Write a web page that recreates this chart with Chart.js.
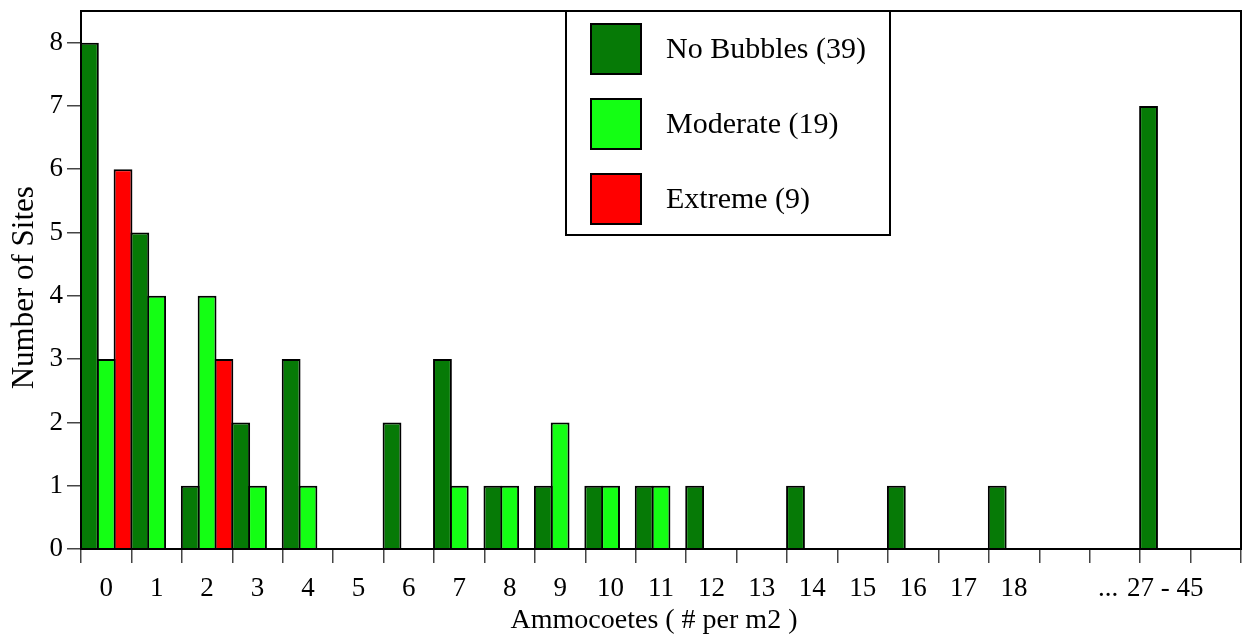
<!DOCTYPE html>
<html>
<head>
<meta charset="utf-8">
<script src="https://cdn.jsdelivr.net/npm/chart.js@4.4.1/dist/chart.umd.min.js"></script>
<style>
  html, body { margin: 0; padding: 0; background: #fff; }
  #wrap { width: 1244px; height: 642px; position: relative; }
</style>
</head>
<body>
<div id="wrap"><canvas id="chart"></canvas></div>
<script>
// x categories: ammocoete density classes (last ones grouped)
const categories = ['0', '1', '2', '3', '4', '5', '6', '7', '8', '9', '10', '11', '12',
  '13', '14', '15', '16', '17', '18', '', '...  ', '27 - 45', ''];

const seriesLabels = ['No Bubbles (39)', 'Moderate (19)', 'Extreme (9)'];
const seriesColors = ['#067a06', '#14ff14', '#ff0000'];

const noBubbles = [8, 5, 1, 2, 3, null, 2, 3, 1, 1, 1, 1, 1, null, 1, null, 1, null, 1, null, null, 7, null];
const moderate = [3, 4, 4, 1, 1, null, null, 1, 1, 2, 1, 1, null, null, null, null, null, null, null, null, null, null, null];
const extreme = [6, null, 3, null, null, null, null, null, null, null, null, null, null, null, null, null, null, null, null, null, null, null, null];

const yTicks = [0, 1, 2, 3, 4, 5, 6, 7, 8];

const FONT = '"Liberation Serif", "Times New Roman", serif';

// frame round the plot + boxed legend inside the top of the plot
const framePlugin = {
  id: 'frameAndLegend',
  afterDatasetsDraw(chart) {
    const { ctx, chartArea: a } = chart;
    ctx.save();
    ctx.strokeStyle = '#000';
    ctx.lineWidth = 2;
    ctx.strokeRect(a.left, a.top, a.right - a.left, a.bottom - a.top);

    const bx = a.left + 485, by = a.top, bw = 324, bh = 224;
    ctx.fillStyle = '#fff';
    ctx.fillRect(bx, by, bw, bh);
    ctx.strokeRect(bx, by, bw, bh);

    ctx.font = '30px ' + FONT;
    ctx.textAlign = 'left';
    ctx.textBaseline = 'middle';
    chart.data.datasets.forEach((ds, i) => {
      const sy = by + 13 + i * 75;
      ctx.fillStyle = ds.backgroundColor;
      ctx.fillRect(bx + 25, sy, 50, 50);
      ctx.strokeRect(bx + 25, sy, 50, 50);
      ctx.fillStyle = '#000';
      ctx.fillText(ds.label, bx + 100, sy + 26);
    });
    ctx.restore();
  },
};

const datasets = [noBubbles, moderate, extreme].map((data, i) => ({
  label: seriesLabels[i],
  data,
  backgroundColor: seriesColors[i],
  borderColor: '#000',
  borderWidth: 2,
  borderSkipped: 'start',
  categoryPercentage: 1,
  barPercentage: 1.12,
}));

new Chart(document.getElementById('chart'), {
  type: 'bar',
  data: { labels: categories, datasets },
  plugins: [framePlugin],
  options: {
    responsive: true,
    maintainAspectRatio: false,
    devicePixelRatio: 1,
    animation: false,
    layout: { padding: { top: 11, right: 3, left: 0, bottom: 0 } },
    plugins: {
      legend: { display: false },
      tooltip: { enabled: false },
    },
    scales: {
      x: {
        grid: { display: true, drawOnChartArea: false, drawTicks: true, tickLength: 14, color: '#444', lineWidth: 1.5, offset: true },
        border: { display: true, color: '#000', width: 2 },
        ticks: { autoSkip: false, maxRotation: 0, color: '#000', padding: 10, font: { family: FONT, size: 27 } },
        title: { display: true, text: 'Ammocoetes ( # per m2 )  ', color: '#000', font: { family: FONT, size: 28 }, padding: { top: 0, bottom: 5 } },
        afterFit(scale) { scale.height = 93; scale.paddingLeft = 0; scale.paddingRight = 0; },
      },
      y: {
        min: 0,
        max: 8.5,
        grid: { display: true, drawOnChartArea: false, drawTicks: true, tickLength: 14, color: '#444', lineWidth: 1.5 },
        border: { display: true, color: '#000', width: 2 },
        ticks: { stepSize: 1, color: '#000', padding: 4, font: { family: FONT, size: 27 } },
        afterBuildTicks(scale) { scale.ticks = yTicks.map((v) => ({ value: v })); },
        title: { display: true, text: 'Number of Sites  ', color: '#000', font: { family: FONT, size: 31 }, padding: { top: 6, bottom: 0 } },
        afterFit(scale) { scale.width = 81; scale.paddingTop = 0; scale.paddingBottom = 0; },
      },
    },
  },
});
</script>
</body>
</html>
